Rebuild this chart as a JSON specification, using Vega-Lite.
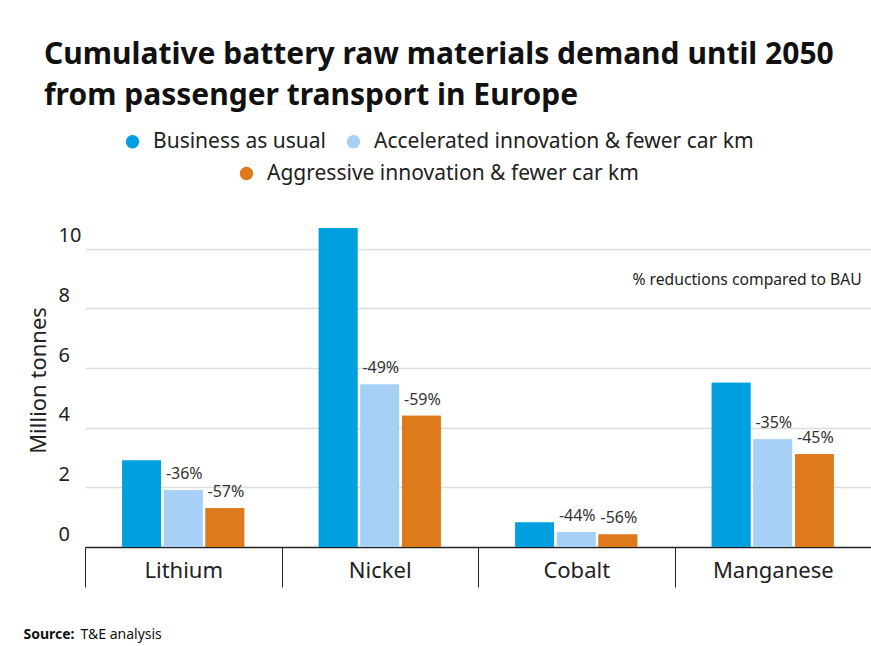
{
  "$schema": "https://vega.github.io/schema/vega-lite/v6.json",
  "width": 813,
  "height": 328,
  "autosize": {"type": "none"},
  "padding": {"left": 58, "top": 219, "right": 0, "bottom": 99},
  "background": "white",
  "config": {"font": "Noto Sans", "view": {"stroke": null}},
  "title": {
    "text": ["Cumulative battery raw materials demand until 2050", "from passenger transport in Europe"],
    "anchor": "start",
    "frame": "group",
    "fontSize": 30,
    "fontWeight": "bold",
    "color": "#111111",
    "lineHeight": 41,
    "dx": -14,
    "offset": 20
  },
  "data": {
    "values": [
      {"material": "Lithium", "scenario": "Business as usual", "value": 2.9, "label": ""},
      {"material": "Lithium", "scenario": "Accelerated innovation & fewer car km", "value": 1.9, "label": "-36%"},
      {"material": "Lithium", "scenario": "Aggressive innovation & fewer car km", "value": 1.3, "label": "-57%"},
      {"material": "Nickel", "scenario": "Business as usual", "value": 10.7, "label": ""},
      {"material": "Nickel", "scenario": "Accelerated innovation & fewer car km", "value": 5.45, "label": "-49%"},
      {"material": "Nickel", "scenario": "Aggressive innovation & fewer car km", "value": 4.4, "label": "-59%"},
      {"material": "Cobalt", "scenario": "Business as usual", "value": 0.82, "label": ""},
      {"material": "Cobalt", "scenario": "Accelerated innovation & fewer car km", "value": 0.5, "label": "-44%"},
      {"material": "Cobalt", "scenario": "Aggressive innovation & fewer car km", "value": 0.42, "label": "-56%"},
      {"material": "Manganese", "scenario": "Business as usual", "value": 5.51, "label": ""},
      {"material": "Manganese", "scenario": "Accelerated innovation & fewer car km", "value": 3.61, "label": "-35%"},
      {"material": "Manganese", "scenario": "Aggressive innovation & fewer car km", "value": 3.11, "label": "-45%"}
    ]
  },
  "layer": [
    {
      "mark": {"type": "bar"},
      "encoding": {
        "x": {
          "field": "material", "type": "nominal",
          "sort": ["Lithium", "Nickel", "Cobalt", "Manganese"],
          "scale": {"range": [27, 813], "paddingInner": 0, "paddingOuter": 0},
          "axis": {
            "title": "Source:", "titleFontWeight": "bold", "titleFontSize": 14, "titleColor": "#111111",
            "titleX": -35, "titleY": 91, "titleAlign": "left", "titleBaseline": "alphabetic", "titleAnchor": "start",
            "domain": false, "grid": false, "tickBand": "extent", "tickSize": 40, "tickColor": "#222222", "tickWidth": 1,
            "labelFontSize": 22, "labelColor": "#222222", "labelBaseline": "alphabetic", "labelPadding": -10, "labelAngle": 0
          }
        },
        "xOffset": {
          "field": "scenario", "type": "nominal",
          "sort": ["Business as usual", "Accelerated innovation & fewer car km", "Aggressive innovation & fewer car km"],
          "scale": {"paddingInner": 0.07, "paddingOuter": 0.895}
        },
        "y": {
          "field": "value", "type": "quantitative",
          "scale": {"domain": [0, 11], "nice": false},
          "axis": {
            "title": "Million tonnes", "titleFontSize": 22, "titleFontWeight": "normal", "titleColor": "#222222",
            "titleX": -20, "titleY": 161, "titleAngle": -90, "titleAlign": "center", "titleBaseline": "middle",
            "values": [0, 2, 4, 6, 8, 10], "domain": false, "ticks": false,
            "labelAlign": "left", "labelBaseline": "alphabetic", "labelPadding": 0, "labelOffset": -7,
            "labelFontSize": 20, "labelColor": "#222222",
            "gridColor": {"condition": {"test": "datum.value === 0", "value": "#222222"}, "value": "#dddddd"},
            "gridWidth": 1.5
          }
        },
        "color": {
          "field": "scenario", "type": "nominal",
          "scale": {
            "domain": ["Business as usual", "Accelerated innovation & fewer car km", "Aggressive innovation & fewer car km"],
            "range": ["#00a0e0", "#a6d0f5", "#df7a1c"]
          },
          "legend": {
            "values": ["Business as usual", "Accelerated innovation & fewer car km"],
            "orient": "none", "legendX": 64, "legendY": -88, "direction": "horizontal", "title": null,
            "symbolType": "circle", "symbolSize": 180, "symbolStrokeWidth": 0,
            "labelFontSize": 21, "labelColor": "#222222", "labelLimit": 500, "columnPadding": 16, "labelOffset": 10
          }
        }
      }
    },
    {
      "mark": {"type": "bar"},
      "encoding": {
        "x": {"field": "material", "type": "nominal", "sort": ["Lithium", "Nickel", "Cobalt", "Manganese"], "axis": null},
        "xOffset": {
          "field": "scenario", "type": "nominal",
          "sort": ["Business as usual", "Accelerated innovation & fewer car km", "Aggressive innovation & fewer car km"]
        },
        "y": {
          "field": "value", "type": "quantitative",
          "axis": {
            "title": "Million tonnes", "titleFontSize": 22, "titleFontWeight": "normal", "titleColor": "#222222",
            "titleX": -20, "titleY": 161, "titleAngle": -90, "titleAlign": "center", "titleBaseline": "middle",
            "values": [0, 2, 4, 6, 8, 10], "domain": false, "ticks": false,
            "labelAlign": "left", "labelBaseline": "alphabetic", "labelPadding": 0, "labelOffset": -7,
            "labelFontSize": 20, "labelColor": "#222222",
            "gridColor": {"condition": {"test": "datum.value === 0", "value": "#222222"}, "value": "#dddddd"},
            "gridWidth": 1.5
          }
        },
        "color": {
          "field": "scenario", "type": "nominal",
          "legend": {
            "values": ["Aggressive innovation & fewer car km"],
            "orient": "none", "legendX": 178, "legendY": -56, "direction": "horizontal", "title": null,
            "symbolType": "circle", "symbolSize": 180, "symbolStrokeWidth": 0,
            "labelFontSize": 21, "labelColor": "#222222", "labelLimit": 500, "labelOffset": 10
          }
        }
      }
    },
    {
      "transform": [{"filter": "datum.label != ''"}],
      "mark": {"type": "text", "fontSize": 16, "color": "#333333", "align": "center", "baseline": "alphabetic", "dy": -11, "dx": 1},
      "encoding": {
        "x": {
          "field": "material", "type": "nominal", "sort": ["Lithium", "Nickel", "Cobalt", "Manganese"],
          "axis": {
            "orient": "bottom", "title": "T&E analysis", "titleFontWeight": "normal", "titleFontSize": 14, "titleColor": "#111111",
            "titleX": 22, "titleY": 91, "titleAlign": "left", "titleBaseline": "alphabetic", "titleAnchor": "start",
            "labels": false, "ticks": false, "domain": false, "grid": false
          }
        },
        "xOffset": {
          "field": "scenario", "type": "nominal",
          "sort": ["Business as usual", "Accelerated innovation & fewer car km", "Aggressive innovation & fewer car km"]
        },
        "y": {
          "field": "value", "type": "quantitative",
          "axis": {
            "title": "Million tonnes", "titleFontSize": 22, "titleFontWeight": "normal", "titleColor": "#222222",
            "titleX": -20, "titleY": 161, "titleAngle": -90, "titleAlign": "center", "titleBaseline": "middle",
            "values": [0, 2, 4, 6, 8, 10], "domain": false, "ticks": false,
            "labelAlign": "left", "labelBaseline": "alphabetic", "labelPadding": 0, "labelOffset": -7,
            "labelFontSize": 20, "labelColor": "#222222",
            "gridColor": {"condition": {"test": "datum.value === 0", "value": "#222222"}, "value": "#dddddd"},
            "gridWidth": 1.5
          }
        },
        "text": {"field": "label"}
      }
    },
    {
      "data": {"values": [{"note": "% reductions compared to BAU", "material": "Manganese", "value": 8.96}]},
      "mark": {"type": "text", "fontSize": 15.7, "color": "#222222", "align": "right", "baseline": "middle", "dx": 89},
      "encoding": {
        "x": {"field": "material", "type": "nominal", "sort": ["Lithium", "Nickel", "Cobalt", "Manganese"], "axis": null},
        "y": {
          "field": "value", "type": "quantitative",
          "axis": {
            "title": "Million tonnes", "titleFontSize": 22, "titleFontWeight": "normal", "titleColor": "#222222",
            "titleX": -20, "titleY": 161, "titleAngle": -90, "titleAlign": "center", "titleBaseline": "middle",
            "values": [0, 2, 4, 6, 8, 10], "domain": false, "ticks": false,
            "labelAlign": "left", "labelBaseline": "alphabetic", "labelPadding": 0, "labelOffset": -7,
            "labelFontSize": 20, "labelColor": "#222222",
            "gridColor": {"condition": {"test": "datum.value === 0", "value": "#222222"}, "value": "#dddddd"},
            "gridWidth": 1.5
          }
        },
        "text": {"field": "note"}
      }
    }
  ],
  "resolve": {"legend": {"color": "independent"}, "axis": {"x": "independent"}}
}
